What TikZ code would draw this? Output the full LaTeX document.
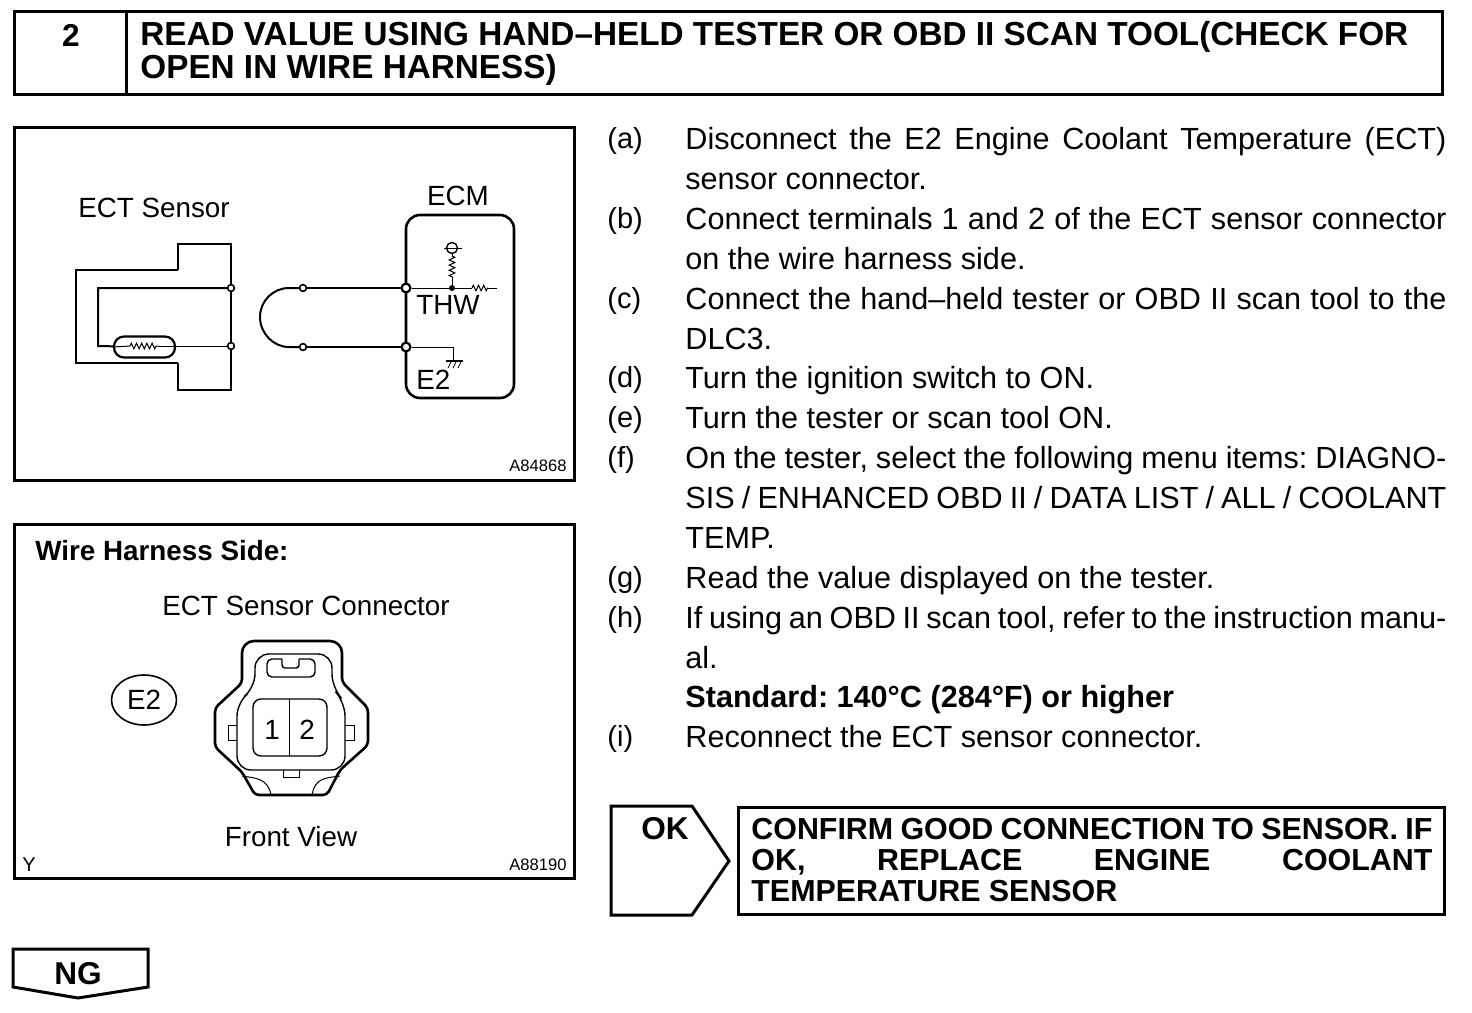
\documentclass[tikz,border=0pt]{standalone}
\usepackage{fontspec}
\setmainfont{Liberation Sans}
\usetikzlibrary{decorations.pathmorphing,shapes.geometric}
\newcommand{\stepitem}[3]{%
  \node[steplabel] (l_#1) at (607,#2) {(#1)};
  \node[steptext] (s_#1) at (685,#2-27) {\strut #3};
}
\begin{document}
\frenchspacing
\begin{tikzpicture}[x=0.5pt,y=-0.5pt]
\tikzstyle{frame}=[draw=black, line width=1.5pt]
\tikzstyle{lbl}=[inner sep=0pt, font=\fontsize{13.9}{18}\selectfont]
\tikzstyle{big}=[inner sep=0pt, font=\bfseries\fontsize{15.8}{16}\selectfont]
\tikzstyle{tiny}=[inner sep=0pt, font=\fontsize{8.3}{10}\selectfont]
\tikzstyle{head}=[inner sep=0pt, anchor=base west, font=\bfseries\fontsize{16.65}{16}\selectfont]
\tikzstyle{steplabel}=[inner sep=0pt, anchor=base west, font=\fontsize{14.5}{20}\selectfont]
\tikzstyle{steptext}=[inner sep=0pt, anchor=north west, text width=380.5pt, align=justify, font=\fontsize{15.3}{19.93}\selectfont]
\tikzstyle{term}=[circle, draw=black, fill=white, line width=0.8pt, inner sep=0pt, minimum size=3.4pt]
\tikzstyle{bigterm}=[circle, draw=black, fill=white, line width=1.1pt, inner sep=0pt, minimum size=4.4pt]
\tikzstyle{wire}=[draw=black, line width=0.7pt]
\tikzstyle{mid}=[draw=black, line width=1pt]
\tikzstyle{fat}=[draw=black, line width=1.3pt]
\tikzstyle{res}=[draw=black, line width=0.5pt, decorate, decoration={zigzag, segment length=2.6pt, amplitude=1.4pt}]
\useasboundingbox (0,0) rectangle (1472,1012);

% title bar
\node[frame, inner sep=0pt, minimum width=714pt, minimum height=41.5pt, anchor=north west] (title) at (13,10) {};
\coordinate (div_t) at (126,10);
\coordinate (div_b) at (126,95);
\draw[frame] (div_t) -- (div_b);
\node[big] (num) at (71,35) {2};
\node[head] (title_1) at (140,46) {READ VALUE USING HAND–HELD TESTER OR OBD II SCAN TOOL(CHECK FOR};
\node[head] (title_2) at (140,78) {OPEN IN WIRE HARNESS)};

% wiring box
\node[frame, inner sep=0pt, minimum width=280pt, minimum height=176.5pt, anchor=north west] (box_a) at (13,126) {};
\node[lbl] (ect) at (154,208) {ECT Sensor};
\node[lbl] (ecm_t) at (458,196) {ECM};
\node[tiny, anchor=base east] (code_a) at (567,471) {A84868};

\draw[wire] (178,270) -- (178,244) -- (231,244) -- (231,390) -- (178,390) -- (178,363);
\draw[fat] (178,270) -- (76,270) -- (76,363) -- (178,363);

\node[term] (p1) at (231,288) {};
\node[term] (p2) at (231,346) {};
\node[term] (h1) at (303,288) {};
\node[term] (h2) at (303,347) {};
\node[draw=black, line width=1.1pt, rounded corners=5pt, minimum width=30.5pt, minimum height=10.5pt, inner sep=0pt] (therm) at (144.5,347) {};
\coordinate (z_l) at (130,346);
\coordinate (z_r) at (158,346);
\draw[mid] (p1) -- (98,288) -- (98,346) -- (therm);
\draw[line width=0.5pt] (therm.west) -- (z_l);
\draw[res] (z_l) -- (z_r);
\draw[line width=0.5pt] (z_r) -- (p2);

% ecm
\draw[fat, rounded corners=7pt] (406,215) rectangle (514,398);
\node[bigterm] (e1) at (406,288) {};
\node[bigterm] (e2) at (406,347) {};
\draw[fat] (h1) -- (e1);
\draw[fat] (h2) -- (e2);
\draw[mid] (h1) -- (289,288) .. controls (273,288) and (260,301) .. (260,317) .. controls (260,333) and (273,347) .. (289,347) -- (h2);
\node[circle, fill=black, inner sep=0pt, minimum size=3pt] (dot) at (452,288) {};
\coordinate (r_a) at (472,288);
\coordinate (r_b) at (488,288);
\coordinate (r_end) at (497,288);
\draw[line width=0.5pt] (e1) -- (dot) -- (r_a);
\draw[res] (r_a) -- (r_b);
\draw[line width=0.5pt] (r_b) -- (r_end);
\node[circle, draw=black, line width=0.7pt, inner sep=0pt, minimum size=5.5pt] (vcc) at (452,248) {};
\coordinate (vcc_l) at (444,248);
\coordinate (vcc_r) at (462,248);
\draw[line width=0.5pt] (vcc_l) -- (vcc_r);
\coordinate (v_a) at (452,256);
\coordinate (v_b) at (452,277);
\draw[line width=0.5pt] (vcc) -- (v_a);
\draw[res] (v_a) -- (v_b);
\draw[line width=0.5pt] (v_b) -- (dot);
\coordinate (gnd) at (453,361);
\draw[line width=0.5pt] (e2) -- (453,347) -- (gnd);
\draw[line width=1.2pt] (446,361) -- (463,361);
\draw[line width=0.4pt] (451,362) -- (448,368) (456,362) -- (453,368) (461,362) -- (458,368);
\node[lbl, anchor=base west] (thw) at (416,314) {THW};
\node[lbl, anchor=base west] (e2_t) at (416,389) {E2};

% connector box
\node[frame, inner sep=0pt, minimum width=280pt, minimum height=177pt, anchor=north west] (box_b) at (13,523) {};
\node[lbl, anchor=base west, font=\bfseries\fontsize{13.9}{16}\selectfont] (side) at (35,560) {Wire Harness Side:};
\node[lbl] (conn) at (306,606) {ECT Sensor Connector};
\node[lbl] (front) at (291,837) {Front View};
\node[tiny, anchor=base west, font=\fontsize{10}{10}\selectfont] (y_t) at (22,871) {Y};
\node[tiny, anchor=base east] (code_b) at (567,870) {A88190};
\node[draw=black, line width=0.8pt, ellipse, minimum width=32.5pt, minimum height=25pt, inner sep=0pt] (e2_o) at (144,700) {};
\node[lbl] (e2_i) at (144,700) {E2};

\draw[fat, line join=round] (290,641) [rounded corners=6pt] -- (342,641) [rounded corners=2pt] -- (342,682) -- (368,708) -- (368,745) -- (340,770) -- (327,795) -- (255,795) -- (242,772) -- (215,747) -- (215,708) -- (242,683) [rounded corners=6pt] -- (242,641) -- cycle;
\draw[wire, rounded corners=7pt] (255,688) -- (255,654) -- (332,654) -- (332,688) -- (345,702) -- (345,770) -- (237,770) -- (237,702) -- cycle;
\draw[wire, rounded corners=2.5pt] (282,659) -- (267,659) -- (267,677) -- (315,677) -- (315,659) -- (299,659);
\draw[wire, rounded corners=1.5pt] (282,659) -- (282,668) -- (299,668) -- (299,659);
\draw[wire, rounded corners=4pt] (253,699) rectangle (327,756);
\coordinate (c_t) at (289,699);
\coordinate (c_b) at (289,756);
\draw[line width=0.5pt] (c_t) -- (c_b);
\node[lbl, anchor=base] (pin_1) at (272,739) {1};
\node[lbl, anchor=base] (pin_2) at (307,739) {2};
\draw[line width=0.5pt] (237,725) -- (228,725) -- (228,740) -- (237,740);
\draw[line width=0.5pt] (345,725) -- (354,725) -- (354,740) -- (345,740);
\draw[line width=0.5pt] (283,770) -- (283,777) -- (299,777) -- (299,770);
\draw[line width=0.5pt] (242,776) .. controls (255,778) and (268,778) .. (271,795);
\draw[line width=0.5pt] (340,776) .. controls (325,778) and (315,778) .. (312,795);

% steps
\stepitem{a}{148}{Disconnect the E2 Engine Coolant Temperature (ECT)\linebreak sensor connector.}
\stepitem{b}{228}{Connect terminals 1 and 2 of the ECT sensor connector\linebreak on the wire harness side.}
\stepitem{c}{308}{Connect the hand–held tester or OBD II scan tool to the\linebreak DLC3.}
\stepitem{d}{387}{Turn the ignition switch to ON.}
\stepitem{e}{427}{Turn the tester or scan tool ON.}
\stepitem{f}{467}{On the tester, select the following menu items: DIAGNO-\linebreak SIS / ENHANCED OBD II / DATA LIST / ALL / COOLANT\linebreak TEMP.}
\stepitem{g}{587}{Read the value displayed on the tester.}
\stepitem{h}{627}{If using an OBD II scan tool, refer to the instruction manu-\linebreak al.}
\node[steptext, font=\bfseries\fontsize{15.3}{19.93}\selectfont] (std) at (685,679) {\strut Standard: 140°C (284°F) or higher};
\stepitem{i}{746}{Reconnect the ECT sensor connector.}

% results
\draw[frame] (611,806) -- (692,806) -- (729,861) -- (692,915) -- (611,915) -- cycle;
\node[big] (ok) at (665,829) {OK};
\node[frame, inner sep=0pt, minimum width=353pt, minimum height=53.5pt, anchor=north west] (confirm) at (737,806) {};
\node[inner sep=0pt, anchor=north west, text width=340.5pt, align=justify, font=\bfseries\fontsize{15.2}{15.4}\selectfont] (confirm_t) at (751,818) {\strut CONFIRM GOOD CONNECTION TO SENSOR. IF\linebreak OK, REPLACE ENGINE COOLANT\linebreak TEMPERATURE SENSOR};
\draw[frame] (13,949) -- (148,949) -- (148,987) -- (78,998) -- (13,987) -- cycle;
\node[big] (ng) at (78,974) {NG};
\end{tikzpicture}
\end{document}
